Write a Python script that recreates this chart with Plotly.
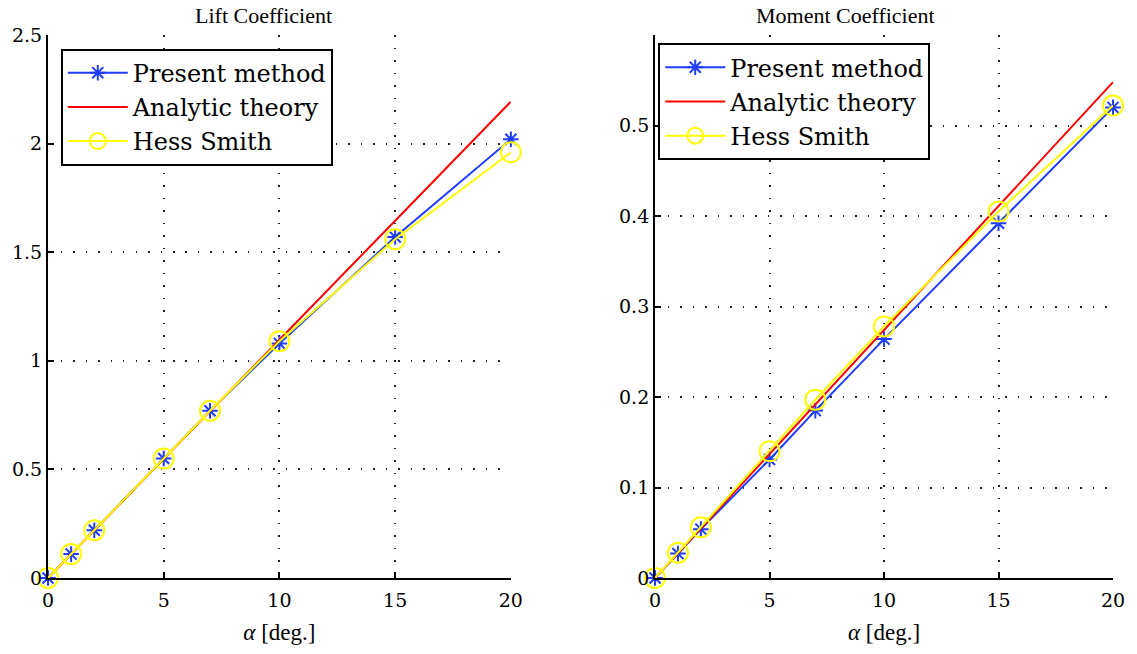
import plotly.graph_objects as go
from plotly.subplots import make_subplots

alpha = [0, 1, 2, 5, 7, 10, 15, 20]

cl_present = [0, 0.11, 0.22, 0.55, 0.77, 1.08, 1.57, 2.02]
cl_analytic = [0, 0.110, 0.219, 0.548, 0.768, 1.097, 1.645, 2.193]
cl_hess = [0, 0.11, 0.22, 0.55, 0.77, 1.09, 1.56, 1.96]

cm_present = [0, 0.027, 0.054, 0.131, 0.185, 0.264, 0.392, 0.520]
cm_analytic = [0, 0.0274, 0.0548, 0.137, 0.192, 0.274, 0.411, 0.548]
cm_hess = [0, 0.028, 0.056, 0.140, 0.197, 0.278, 0.405, 0.522]

FONT = "Liberation Serif"
SERIF2 = "DejaVu Serif"
BLUE = "#1f3cff"
RED = "#ff0000"
YEL = "#ffff00"

fig = make_subplots(rows=1, cols=2, horizontal_spacing=0.135)

def add_set(col, yp, ya, yh, legend):
    fig.add_trace(go.Scatter(x=alpha, y=yp, name="Present method", mode="lines+markers",
                             line=dict(color=BLUE, width=2), cliponaxis=False,
                             marker=dict(symbol="asterisk-open", size=13, line=dict(color=BLUE, width=2)),
                             legend=legend), row=1, col=col)
    fig.add_trace(go.Scatter(x=alpha, y=ya, name="Analytic theory", mode="lines",
                             line=dict(color=RED, width=2), legend=legend), row=1, col=col)
    fig.add_trace(go.Scatter(x=alpha, y=yh, name="Hess Smith", mode="lines+markers",
                             line=dict(color=YEL, width=2), cliponaxis=False,
                             marker=dict(symbol="circle-open", size=20, color=YEL, line=dict(color=YEL, width=2)),
                             legend=legend), row=1, col=col)

add_set(1, cl_present, cl_analytic, cl_hess, "legend")
add_set(2, cm_present, cm_analytic, cm_hess, "legend2")

axis_common = dict(showline=True, linecolor="black", linewidth=2, mirror=False,
                   ticks="inside", ticklen=6, tickwidth=1.5, tickcolor="black",
                   showgrid=True, gridcolor="#222222", gridwidth=1.5, griddash="1.5px,11px",
                   zeroline=False, tickfont=dict(family=SERIF2, size=19, color="black"))

fig.update_xaxes(range=[0, 20], tickvals=[0, 5, 10, 15, 20], ticklabelstandoff=4, **axis_common,
                 title=dict(text="<i>α</i> [deg.]", font=dict(family=FONT, size=23, color="black"), standoff=14))
fig.update_yaxes(row=1, col=1, range=[0, 2.5], tickvals=[0, 0.5, 1, 1.5, 2, 2.5],
                 ticktext=["0", "0.5", "1", "1.5", "2", "2.5"], **axis_common)
fig.update_yaxes(row=1, col=2, range=[0, 0.6], tickvals=[0, 0.1, 0.2, 0.3, 0.4, 0.5],
                 ticktext=["0", "0.1", "0.2", "0.3", "0.4", "0.5"], **axis_common)

leg_common = dict(bgcolor="white", bordercolor="black", borderwidth=2,
                  font=dict(family=SERIF2, size=24, color="black"),
                  xanchor="left", yanchor="top", tracegroupgap=0, itemwidth=60)

fig.update_layout(
    width=1137, height=654,
    font=dict(family=FONT, color="black"),
    margin=dict(l=47, r=20, t=35, b=76),
    plot_bgcolor="white", paper_bgcolor="white",
    legend=dict(x=0.012, y=0.975, xref="paper", yref="paper", **leg_common),
    legend2=dict(x=0.573, y=0.985, xref="paper", yref="paper", **leg_common),
    annotations=[
        dict(text="Lift Coefficient", x=0.2019, y=1.0, xref="paper", yref="paper",
             xanchor="center", yanchor="bottom", yshift=5, showarrow=False,
             font=dict(family=FONT, size=22, color="black")),
        dict(text="Moment Coefficient", x=0.7486, y=1.0, xref="paper", yref="paper",
             xanchor="center", yanchor="bottom", yshift=5, showarrow=False,
             font=dict(family=FONT, size=22, color="black")),
    ],
)
fig.update_xaxes(domain=[0, 0.4346], row=1, col=1)
fig.update_xaxes(domain=[0.570, 1.0], row=1, col=2)

fig.write_html("out.html")
